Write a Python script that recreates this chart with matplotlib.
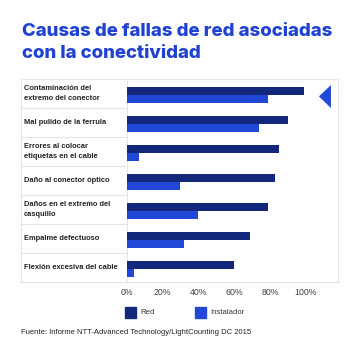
import matplotlib.pyplot as plt
import matplotlib.patches as mpatches
import numpy as np

# data
causas = ["Contaminación del\nextremo del conector",
          "Mal pulido de la ferrula",
          "Errores al colocar\netiquetas en el cable",
          "Daño al conector óptico",
          "Daños en el extremo del\ncasquillo",
          "Empalme defectuoso",
          "Flexión excesiva del cable"]
red = [99, 90, 85, 83, 79, 69, 60]
instalador = [79, 74, 7, 30, 40, 32, 4]
ticks = [0, 20, 40, 60, 80, 100]
series_names = ["Red", "Instalador"]

c_red = '#13287c'
c_inst = '#2047d6'
c_title = '#1f42d0'
c_line = '#e4e4e4'

plt.rcParams['font.family'] = ['Liberation Sans', 'DejaVu Sans']

fig = plt.figure(figsize=(3.6, 3.6), dpi=100)
W = H = 360.0
# box of the chart in pixels (left, top, right, bottom)
L, T, R, B = 21, 79, 338, 282
ax = fig.add_axes([L / W, 1 - B / H, (R - L) / W, (B - T) / H])

x0px = 126.7          # pixel where 0% sits
scale = 1.79          # pixels per %
ax.set_xlim(-(x0px - L) / scale, (R - x0px) / scale)
ax.set_ylim(6.5, -0.5)

y = np.arange(len(causas))
h = 0.27
ax.barh(y - 0.1, red, height=h, color=c_red, label=series_names[0])
ax.barh(y + 0.18, instalador, height=h, color=c_inst, label=series_names[1])

# label column
xl = ax.get_xlim()[0]
for i, lab in enumerate(causas):
    ax.text(xl + 3 / scale, i, lab, fontsize=5.4, fontweight='bold',
            color='#222222', va='center', ha='left', linespacing=1.6)
    if i > 0:
        ax.plot([xl, 0], [i - 0.5, i - 0.5], color=c_line, lw=0.8)
ax.axvline(0, color=c_line, lw=0.8, zorder=0)

# pointer
ax.add_patch(mpatches.Polygon([[114.1, -0.29], [114.1, 0.5], [107.4, 0.1]],
                              closed=True, color=c_inst, lw=0))

for s in ax.spines.values():
    s.set_color(c_line)
    s.set_linewidth(0.8)
ax.set_yticks([])
ax.set_xticks(ticks)
ax.set_xticklabels([f"{t}%" for t in ticks])
ax.tick_params(axis='x', length=0, pad=4, labelsize=6.3, labelcolor='#444444')

# title
fig.text(22 / W, 1 - 62 / H, "Causas de fallas de red asociadas\ncon la conectividad",
         fontsize=13.4, fontweight='heavy', color=c_title, family=['Inter', 'DejaVu Sans'],
         va='bottom', ha='left', linespacing=1.4)

# legend
for k, (nm, col) in enumerate(zip(series_names, [c_red, c_inst])):
    xs = 125 + k * 70
    fig.patches.append(mpatches.Rectangle((xs / W, 1 - 318 / H), 11 / W, 11 / H,
                                          transform=fig.transFigure, color=col))
    fig.text((xs + 15) / W, 1 - 312.5 / H, nm, fontsize=5.6, color='#333333',
             va='center', ha='left')

fig.text(21 / W, 1 - 333 / H,
         "Fuente: Informe NTT-Advanced Technology/LightCounting DC 2015",
         fontsize=5.5, color='#222222', va='center', ha='left')

fig.savefig('out.png', dpi=100)
